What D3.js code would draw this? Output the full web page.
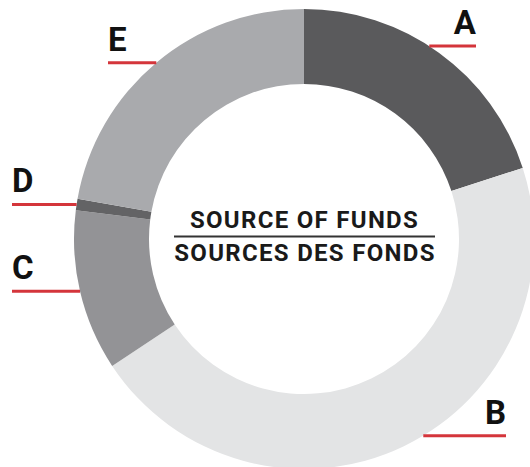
<!DOCTYPE html>
<html>
<head>
<meta charset="utf-8">
<script src="https://cdn.jsdelivr.net/npm/d3@7"></script>
<style>
  body { margin: 0; background: #fff; }
  svg text { font-family: "Roboto", "DejaVu Sans", sans-serif; font-weight: 700; }
</style>
</head>
<body>
<div id="chart"></div>
<script>
// Slices of the ring, clockwise from 12 o'clock
const categories = ["A", "B", "C", "D", "E"];
const shares = [20.0, 45.7, 11.3, 0.8, 22.2];
const sliceColors = ["#5a5a5c", "#e3e4e5", "#939396", "#636365", "#a9aaad"];
const titleLines = ["SOURCE OF FUNDS", "SOURCES DES FONDS"];

const width = 530, height = 467;
const cx = 304, cy = 239;
const outerR = 230, innerR = 155;

// leader layout: side of the label, where the red line ends, small angle nudge
const leaders = {
    A: { side: "right", end: 476, nudge: -3 },
    B: { side: "right", end: 506, nudge: -5.5 },
    C: { side: "left", end: 12, nudge: 0 },
    D: { side: "left", end: 12, nudge: 0 },
    E: { side: "left", end: 108, nudge: 0 }
};

const svg = d3.select("#chart").append("svg")
    .attr("width", width)
    .attr("height", height);

const g = svg.append("g")
    .attr("transform", "translate(" + cx + "," + cy + ")");

const pie = d3.pie().sort(null).value(d => d.value);
const arc = d3.arc().innerRadius(innerR).outerRadius(outerR);

const data = categories.map((c, i) => ({ name: c, value: shares[i], color: sliceColors[i] }));
const arcs = pie(data);

// Ring
g.selectAll(".slice")
    .data(arcs)
    .enter().append("path")
    .attr("class", "slice")
    .attr("d", arc)
    .attr("fill", d => d.data.color);

// Leader lines and letters
arcs.forEach(function (d) {
    const lay = leaders[d.data.name];
    const mid = (d.startAngle + d.endAngle) / 2 + lay.nudge * Math.PI / 180;
    const x0 = outerR * Math.sin(mid);
    const y0 = -outerR * Math.cos(mid);
    const x1 = lay.end - cx;

    g.append("line")
        .attr("x1", x0)
        .attr("y1", y0)
        .attr("x2", x1)
        .attr("y2", y0)
        .attr("stroke", "#d4353b")
        .attr("stroke-width", 3);

    g.append("text")
        .attr("x", x1)
        .attr("y", y0 - 12)
        .attr("text-anchor", lay.side === "right" ? "end" : "start")
        .style("font-size", "33px")
        .attr("fill", "#111")
        .text(d.data.name);
});

// Title in the hole
const title = g.append("g");
title.append("text")
    .attr("x", 0.5)
    .attr("y", -11)
    .attr("text-anchor", "middle")
    .style("font-size", "24px")
    .style("letter-spacing", "1.3px")
    .attr("fill", "#1a1a1a")
    .text(titleLines[0]);

title.append("line")
    .attr("x1", -130)
    .attr("x2", 131)
    .attr("y1", -2.5)
    .attr("y2", -2.5)
    .attr("stroke", "#333")
    .attr("stroke-width", 2);

title.append("text")
    .attr("x", 1)
    .attr("y", 22)
    .attr("text-anchor", "middle")
    .style("font-size", "24px")
    .style("letter-spacing", "1.3px")
    .attr("fill", "#1a1a1a")
    .text(titleLines[1]);
</script>
</body>
</html>
